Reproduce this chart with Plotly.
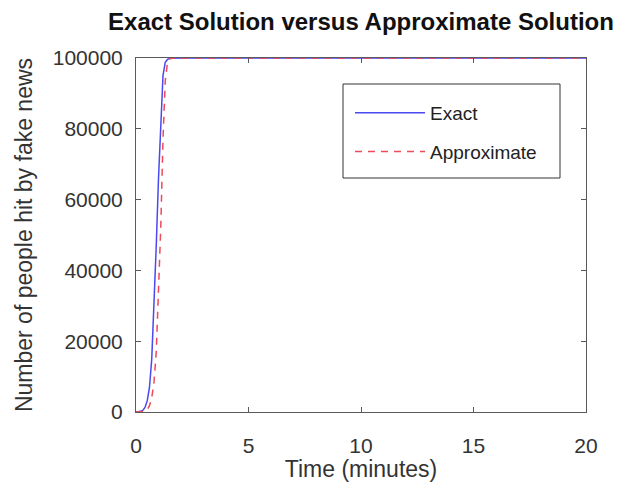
import plotly.graph_objects as go

# Data
t_exact = [0, 0.1, 0.2, 0.3, 0.4, 0.5, 0.6, 0.7, 0.8, 0.9, 1.0, 1.1, 1.2, 1.3, 1.4, 1.5, 1.7, 2.0, 5, 10, 15, 20]
y_exact = [0, 60, 180, 450, 1300, 3200, 7000, 15000, 29000, 47000, 66000, 83000, 95000, 98800, 99600, 99900, 100000, 100000, 100000, 100000, 100000, 100000]

t_approx = [0, 0.2, 0.4, 0.5, 0.6, 0.7, 0.8, 0.9, 1.0, 1.1, 1.2, 1.3, 1.4, 1.5, 1.7, 2.0, 5, 10, 15, 20]
y_approx = [0, 0, 200, 600, 1800, 4000, 8500, 17000, 32000, 52000, 77000, 93500, 98800, 99800, 100000, 100000, 100000, 100000, 100000, 100000]

x_ticks = [0, 5, 10, 15, 20]
y_ticks = [0, 20000, 40000, 60000, 80000, 100000]

title_text = "Exact Solution versus Approximate Solution"
x_label = "Time (minutes)"
y_label = "Number of people hit by fake news"

FONT = "Liberation Sans, Arial, Helvetica, sans-serif"
FRAME = "#5a5a5a"

# page body has an 8px default margin, so the figure is 8px smaller on each axis
W, H = 613, 474
ML, MR, MT, MB = 128, 35, 50, 70
PW, PH = W - ML - MR, H - MT - MB


def px_x(px):
    return (px - 8 - ML) / PW


def px_y(py):
    return (H - MB - (py - 8)) / PH


fig = go.Figure()
fig.add_trace(go.Scatter(
    x=t_exact, y=y_exact, mode="lines", name="Exact",
    line=dict(color="#4a4af0", width=1.5), legendgroup="a",
))
fig.add_trace(go.Scatter(
    x=t_approx, y=y_approx, mode="lines", name="Approximate",
    line=dict(color="#ee4a5a", width=1.5, dash="7px,6px"), legendgroup="b",
))

axis_common = dict(
    showline=True, linecolor=FRAME, linewidth=1, mirror="ticks",
    ticks="inside", ticklen=5, tickcolor=FRAME, tickwidth=1,
    showgrid=False, zeroline=False,
    tickfont=dict(family=FONT, size=21, color="#333333"),
)

fig.update_layout(
    width=W, height=H,
    paper_bgcolor="white", plot_bgcolor="white",
    margin=dict(l=ML, r=MR, t=MT, b=MB, autoexpand=False),
    title=dict(text="<b>" + title_text + "</b>", x=0.5, xref="paper", xanchor="center",
               y=1 - 14 / H, yanchor="middle", yref="container",
               font=dict(family=FONT, size=24, color="#111111")),
    xaxis=dict(range=[0, 20], tickvals=x_ticks, ticktext=[str(v) for v in x_ticks],
               ticklabelstandoff=15,
               title=dict(text=x_label, standoff=4,
                          font=dict(family=FONT, size=23, color="#333333")),
               **axis_common),
    yaxis=dict(range=[0, 100000], tickvals=y_ticks, ticktext=[str(v) for v in y_ticks],
               ticklabelstandoff=8,
               title=dict(text=y_label, standoff=13,
                          font=dict(family=FONT, size=23, color="#333333")),
               **axis_common),
    legend=dict(x=px_x(350), y=px_y(94), xanchor="left", yanchor="top",
                bgcolor="rgba(0,0,0,0)", borderwidth=0,
                font=dict(family=FONT, size=19, color="#222222"),
                tracegroupgap=11, traceorder="grouped", itemwidth=70),
    shapes=[dict(type="rect", xref="paper", yref="paper",
                 x0=px_x(343), x1=px_x(560), y0=px_y(178), y1=px_y(84),
                 line=dict(color="#333333", width=1), fillcolor="white", layer="below")],
    showlegend=True,
)

fig.write_html("out.html")
